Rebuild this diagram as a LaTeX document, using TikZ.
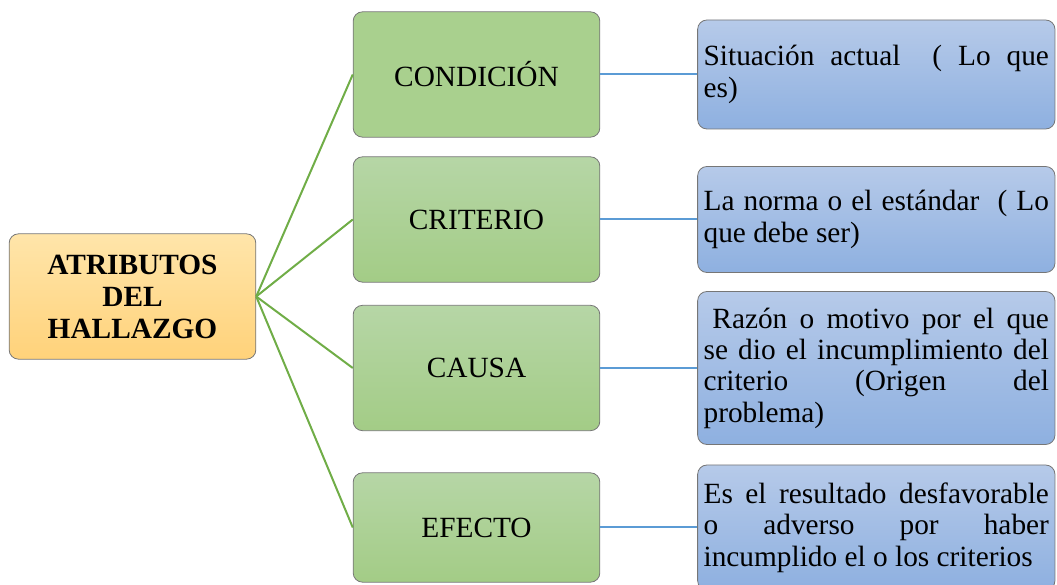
\documentclass[tikz,border=0pt]{standalone}
\usepackage{fontspec}
\setmainfont{Liberation Serif}
\usetikzlibrary{positioning}
\usepackage{xcolor}
\definecolor{framegray}{RGB}{118,118,118}
\definecolor{rootTop}{RGB}{255,229,170}
\definecolor{rootBottom}{RGB}{255,210,122}
\definecolor{greenFlat}{RGB}{169,208,142}
\definecolor{greenTop}{RGB}{182,214,166}
\definecolor{greenBottom}{RGB}{163,204,134}
\definecolor{blueTop}{RGB}{182,202,233}
\definecolor{blueBottom}{RGB}{142,176,224}
\definecolor{branchgreen}{RGB}{112,173,71}
\definecolor{linkblue}{RGB}{91,155,213}

\begin{document}
\begin{tikzpicture}[x=0.75pt, y=0.75pt,
    base/.style={rectangle, draw=framegray, line width=0.6pt, rounded corners=7pt, font=\fontsize{22}{23.5}\selectfont},
    rootbox/.style={base, top color=rootTop, bottom color=rootBottom, minimum width=185pt, minimum height=94pt, align=center, font=\fontsize{22}{24}\selectfont\bfseries},
    attrbox/.style={base, top color=greenTop, bottom color=greenBottom, minimum width=185pt, minimum height=94pt},
    descbox/.style={base, top color=blueTop, bottom color=blueBottom, text width=259pt, inner xsep=4.5pt, align=justify},
    branch/.style={draw=branchgreen, line width=1.5pt},
    link/.style={draw=linkblue, line width=1.5pt}]

    \useasboundingbox (0,0) rectangle (1057,585);

    \node[rootbox] (atributos) at (132.5,288.5) {ATRIBUTOS\\ DEL\\ HALLAZGO};

    \node[attrbox, top color=greenFlat, bottom color=greenFlat] (condicion) at (476.5,510.5) {CONDICIÓN};
    \node[attrbox] (criterio) at (476.5,365.5) {CRITERIO};
    \node[attrbox] (causa) at (476.5,217) {CAUSA};
    \node[attrbox, minimum height=82pt] (efecto) at (476.5,57.5) {EFECTO};

    \node[descbox, minimum height=81.75pt, right=72.75pt of condicion] (situacion) {Situación actual\ \ ( Lo que\linebreak es)};
    \node[descbox, minimum height=79.5pt, right=72.75pt of criterio] (norma) {La norma o el estándar\ \ ( Lo\linebreak que debe ser)};
    \node[descbox, minimum height=114.75pt, right=72.75pt of causa] (razon) {\hspace*{0.3em}Razón o motivo por el que\linebreak se dio el incumplimiento del\linebreak criterio (Origen del\linebreak problema)};
    \node[descbox, minimum height=93.75pt, right=72.75pt of efecto] (resultado) {Es el resultado desfavorable\linebreak o adverso por haber\linebreak incumplido el o los criterios};

    \foreach \attr in {condicion, criterio, causa, efecto}
        \draw[branch] (atributos.east) -- (\attr.west);
    \draw[link] (condicion) -- (situacion);
    \draw[link] (criterio) -- (norma);
    \draw[link] (causa) -- (razon);
    \draw[link] (efecto) -- (resultado);
\end{tikzpicture}
\end{document}
